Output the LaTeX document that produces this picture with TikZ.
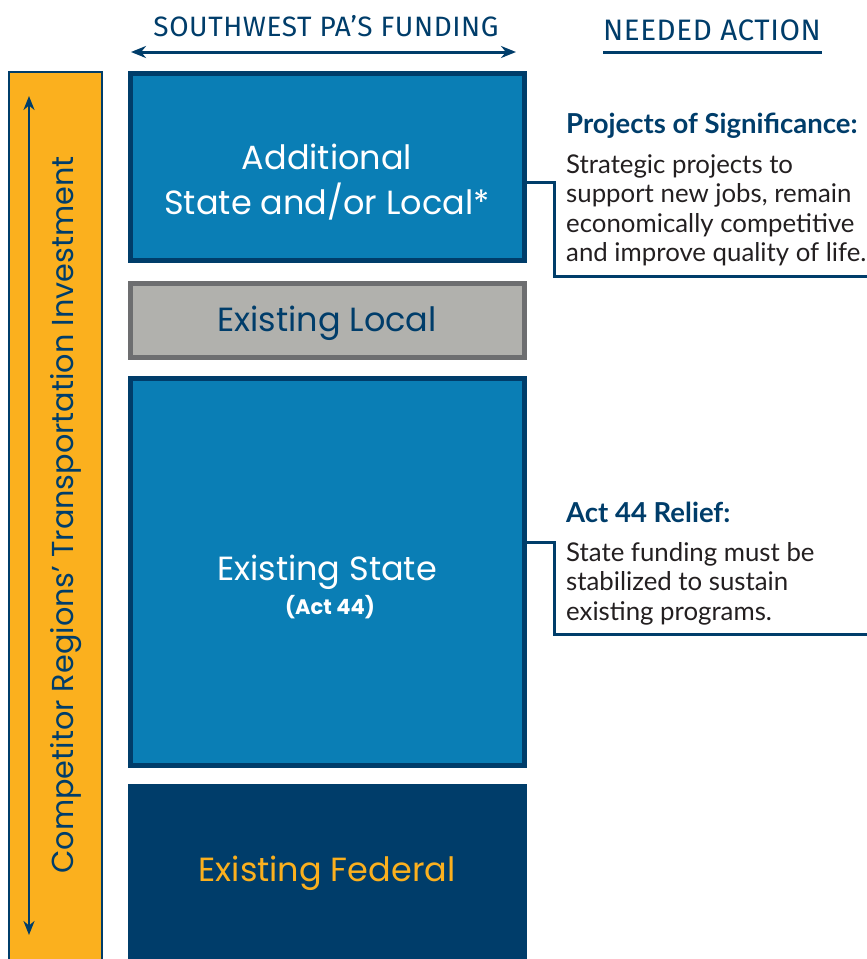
\documentclass[tikz,border=0pt]{standalone}
\usepackage{fontspec}
\setmainfont{Lato}
\newfontfamily\boxfont{Poppins}
\newfontfamily\condfont[LetterSpace=2]{Fira Sans}
\usetikzlibrary{arrows.meta}
\definecolor{midblue}{HTML}{0A7EB5}
\definecolor{darkblue}{HTML}{003D6A}
\definecolor{orangey}{HTML}{FBB01E}
\definecolor{grayfill}{HTML}{B1B1AD}
\definecolor{grayline}{HTML}{6D6E70}
\definecolor{bodytext}{HTML}{231F20}
\begin{document}
\begin{tikzpicture}[x=1pt,y=-1pt,
  fundbox/.style={draw=darkblue,line width=5pt,fill=midblue},
  label/.style={font=\boxfont\fontsize{33.5}{45}\selectfont,align=center,inner sep=0},
  head/.style={font=\condfont\fontsize{28}{30}\selectfont,text=darkblue,inner sep=0},
  bracket/.style={draw=darkblue,line width=3pt},
  title/.style={font=\bfseries\fontsize{27.5}{32}\selectfont,text=darkblue,anchor=west,inner sep=0},
  body/.style={font=\fontsize{25.8}{29.6}\selectfont,text=bodytext,anchor=north west,align=left,inner sep=0}]
\useasboundingbox (0,0) rectangle (867,959);
% left orange bar
\draw[draw=darkblue,line width=2pt,fill=orangey] (9,72) rectangle (102,965);
\coordinate (at) at (29,96);
\coordinate (ab) at (29,935);
\draw[darkblue,line width=2.5pt,{Stealth[length=14pt,width=11pt]}-{Stealth[length=14pt,width=11pt]}] (at) -- (ab);
\node[rotate=90,font=\boxfont\fontsize{30.3}{34}\selectfont,text=darkblue,inner sep=0] (comp) at (66,515) {Competitor Regions’ Transportation Investment};
% header
\node[head] (hdr) at (326,26) {SOUTHWEST PA’S FUNDING};
\coordinate (hl) at (131,52);
\coordinate (hr) at (516,52);
\draw[darkblue,line width=3pt,{Stealth[length=15pt,width=12pt]}-{Stealth[length=15pt,width=12pt]}] (hl) -- (hr);
\node[head,font=\condfont\fontsize{29.6}{32}\selectfont] (need) at (712,30) {NEEDED ACTION};
\coordinate (ul) at (603,52);
\coordinate (ur) at (822,52);
\draw[darkblue,line width=3pt] (ul) -- (ur);
% boxes
\draw[fundbox] (130.5,73.5) rectangle (524.5,260.5);
\node[label,text=white] (add) at (327,182) {Additional\\State and/or Local*};
\draw[draw=grayline,line width=5pt,fill=grayfill] (130.5,283.5) rectangle (524.5,357.5);
\node[label,text=darkblue] (loc) at (327,323) {Existing Local};
\draw[fundbox] (130.5,378.5) rectangle (524.5,765.5);
\node[label,text=white] (st) at (327,572) {Existing State};
\node[font=\boxfont\bfseries\fontsize{21}{24}\selectfont,text=white,inner sep=0] (act) at (330,607) {(Act 44)};
\fill[darkblue] (128,784) rectangle (527,959);
\node[label,text=orangey] (fed) at (327,873) {Existing Federal};
% right side: projects
\coordinate (b1a) at (527,182);
\coordinate (b1b) at (554,182);
\coordinate (b1c) at (554,276);
\coordinate (b1d) at (870,276);
\draw[bracket] (b1a) -- (b1b) -- (b1c) -- (b1d);
\node[title] (pt) at (566,126) {Projects of Significance:};
\node[body] (pb) at (566,154) {Strategic projects to\\support new jobs, remain\\economically competitive\\and improve quality of life.};
% right side: act 44
\coordinate (b2a) at (527,542);
\coordinate (b2b) at (554,542);
\coordinate (b2c) at (554,634);
\coordinate (b2d) at (870,634);
\draw[bracket] (b2a) -- (b2b) -- (b2c) -- (b2d);
\node[title] (at44) at (566,512) {Act 44 Relief:};
\node[body] (ab44) at (566,542) {State funding must be\\stabilized to sustain\\existing programs.};
\end{tikzpicture}
\end{document}
